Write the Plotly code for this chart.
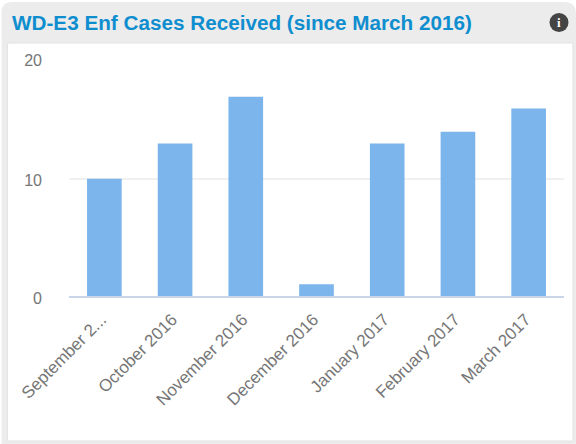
import plotly.graph_objects as go

categories = ["September 2...", "October 2016", "November 2016", "December 2016",
              "January 2017", "February 2017", "March 2017"]
values = [10, 13, 17, 1, 13, 14, 16]
y_tick_positions = [0, 10, 20.3]
y_tick_labels = ["0", "10", "20"]
title_text = "WD-E3 Enf Cases Received (since March 2016)"

W, H = 576, 444
L, R, T, B = 68.5, 564, 58, 296


def px(x):
    return (x - L) / (R - L)


def py(y):
    return (B - y) / (B - T)


card_path = (f"M {px(1)} {py(444)} L {px(1)} {py(12)} Q {px(1)} {py(2)} {px(11)} {py(2)} "
             f"L {px(564)} {py(2)} Q {px(576)} {py(2)} {px(576)} {py(14)} L {px(576)} {py(444)} Z")

fig = go.Figure(go.Bar(x=categories, y=values, width=0.49,
                       marker=dict(color="#7cb5ec", line=dict(width=0))))
fig.update_layout(
    width=W, height=H, autosize=False,
    margin=dict(l=L, r=W - R, t=T, b=H - B),
    paper_bgcolor="white", plot_bgcolor="rgba(0,0,0,0)",
    showlegend=False,
    font=dict(family="Liberation Sans, Arial, sans-serif", color="#767676", size=16),
    title=dict(text="<b>" + title_text + "</b>", x=12 / W, xanchor="left", y=1 - 23 / H, yanchor="middle",
               font=dict(size=20.7, color="#0f8ecf", family="Liberation Sans, Arial, sans-serif")),
    xaxis=dict(type="category", tickangle=-45, showgrid=False, ticks="", zeroline=False,
               showline=True, linecolor="#ccd6eb", linewidth=2, ticklabelstandoff=5, ticklabelshift=-3,
               tickfont=dict(size=17, color="#767676"), automargin=False),
    yaxis=dict(range=[0, 20.3], tickvals=y_tick_positions, ticktext=y_tick_labels,
               showgrid=True, gridcolor="#f0f0f0", gridwidth=2,
               zeroline=False, ticks="", ticklabelstandoff=26, ticklabelshift=2,
               tickfont=dict(size=16, color="#767676"), automargin=False),
    shapes=[
        dict(type="path", xref="paper", yref="paper", layer="below", path=card_path,
             fillcolor="#ececec", line=dict(width=0)),
        dict(type="rect", xref="paper", yref="paper", layer="below",
             x0=px(7), x1=px(573), y0=py(441), y1=py(43),
             fillcolor="white", line=dict(color="#e2e2e2", width=1)),
        dict(type="circle", xref="paper", yref="paper",
             x0=px(549.5), x1=px(568.5), y0=py(32), y1=py(13),
             fillcolor="#444444", line=dict(width=0)),
    ],
    annotations=[dict(text="<b>i</b>", xref="paper", yref="paper", showarrow=False,
                      x=px(559), y=py(22.5), xanchor="center", yanchor="middle",
                      font=dict(size=13, color="white", family="Liberation Serif, serif"))],
)
fig.write_html("out.html", config={"displayModeBar": False},
               post_script="document.body.style.margin='0';document.body.style.overflow='hidden';")
